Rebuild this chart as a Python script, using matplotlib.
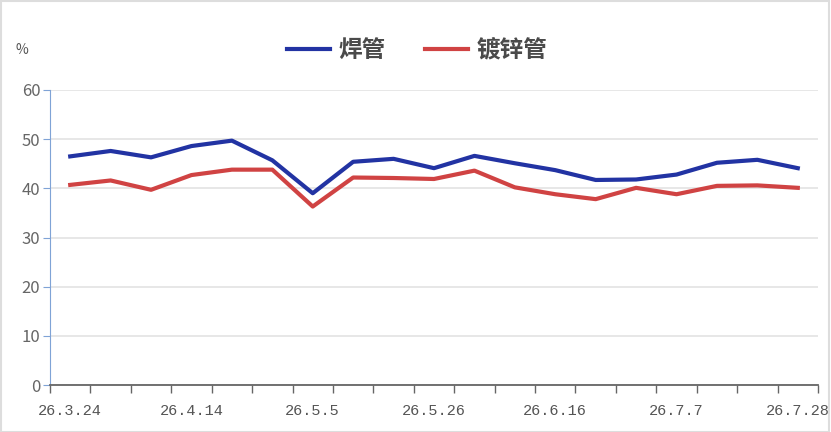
import matplotlib
matplotlib.use("Agg")
import matplotlib.pyplot as plt
from matplotlib.patches import Rectangle

plt.rcParams['font.family'] = ['Noto Sans CJK SC', 'DejaVu Sans']

# weekly dates, 26.3.24 .. 26.7.28
dates = ['26.3.24', '26.3.31', '26.4.7', '26.4.14', '26.4.21', '26.4.28',
         '26.5.5', '26.5.12', '26.5.19', '26.5.26', '26.6.2', '26.6.9',
         '26.6.16', '26.6.23', '26.6.30', '26.7.7', '26.7.14', '26.7.21',
         '26.7.28']
welded = [46.5, 47.6, 46.3, 48.6, 49.7, 45.7, 39.0, 45.4, 46.0, 44.1,
          46.6, 45.1, 43.7, 41.7, 41.8, 42.8, 45.2, 45.8, 44.1]
galvanized = [40.7, 41.6, 39.7, 42.7, 43.8, 43.8, 36.3, 42.2, 42.1, 41.9,
              43.6, 40.2, 38.8, 37.8, 40.1, 38.8, 40.5, 40.6, 40.1]
names = ['焊管', '镀锌管']
colors = ['#2233a3', '#d04343']

fig = plt.figure(figsize=(8.31, 4.32), dpi=100)
fig.patches.append(Rectangle((0.001, 0.001), 0.997, 0.996, transform=fig.transFigure,
                             fill=False, edgecolor='#dddddd', linewidth=1.5))

ax = fig.add_axes([50 / 831, 47 / 432, 768 / 831, 295 / 432])
x = list(range(len(dates)))
ax.plot(x, welded, color=colors[0], lw=3, label=names[0], solid_joinstyle='round')
ax.plot(x, galvanized, color=colors[1], lw=3, label=names[1], solid_joinstyle='round')

ax.set_xlim(-0.5, len(dates) - 0.5)
ax.set_ylim(0, 60)
ax.set_yticks(range(0, 61, 10))
ax.grid(axis='y', color='#e3e3e3', lw=1.2)
ax.set_axisbelow(True)

ax.set_xticks([i - 0.5 for i in range(len(dates) + 1)])
ax.set_xticklabels([])
ax.set_xticks(x[::3], minor=True)
ax.set_xticklabels(dates[::3], minor=True, family='Liberation Mono')
ax.tick_params(axis='x', which='major', length=6, color='#666666', width=1)
ax.tick_params(axis='x', which='minor', length=0, pad=14, labelsize=11, labelcolor='#555555')
ax.tick_params(axis='y', length=5, color='#7fa3d6', labelsize=12, labelcolor='#666666', pad=2)

for s in ['top', 'right']:
    ax.spines[s].set_visible(False)
ax.spines['left'].set_color('#7fa3d6')
ax.spines['bottom'].set_color('#666666')
ax.spines['bottom'].set_linewidth(1.3)

fig.text(22 / 831, 1 - 50 / 432, '%', fontsize=10, color='#555555', ha='center', va='center')

ax.legend(loc='center', bbox_to_anchor=(0.478, 1.135), ncol=2, frameon=False,
          prop={'size': 17, 'weight': 'bold'}, handlelength=1.8, columnspacing=1.7,
          handletextpad=0.35, labelcolor='#4a4a4a')

fig.savefig('out.png', dpi=100)
